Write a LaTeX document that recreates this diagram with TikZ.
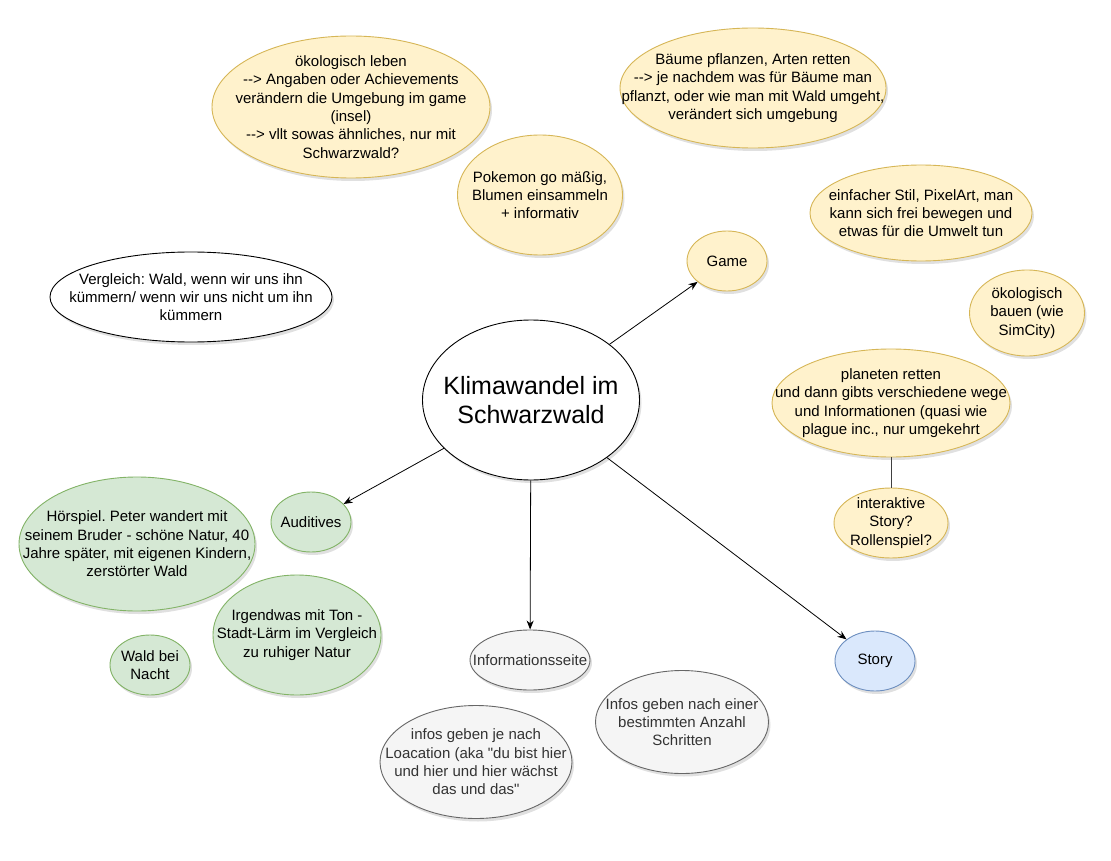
\documentclass[tikz,border=0pt]{standalone}
\usepackage{fontspec}
\setmainfont{Liberation Sans}[Ligatures=TeXOff]
\frenchspacing
\usetikzlibrary{shapes.geometric,arrows.meta,shadows}
\definecolor{yfill}{HTML}{FFF2CC}\definecolor{ydraw}{HTML}{D6B656}
\definecolor{gfill}{HTML}{D5E8D4}\definecolor{gdraw}{HTML}{82B366}
\definecolor{sfill}{HTML}{F5F5F5}\definecolor{sdraw}{HTML}{666666}
\definecolor{stext}{HTML}{333333}
\definecolor{bfill}{HTML}{DAE8FC}\definecolor{bdraw}{HTML}{6C8EBF}
\tikzset{
  ell/.style={ellipse,inner sep=0pt,line width=0.9pt,
    drop shadow={shadow xshift=2pt,shadow yshift=-3pt,opacity=0.12,fill=black}},
  yel/.style={ell,fill=yfill,draw=ydraw},
  grn/.style={ell,fill=gfill,draw=gdraw},
  gry/.style={ell,fill=sfill,draw=sdraw},
  blu/.style={ell,fill=bfill,draw=bdraw},
  wht/.style={ell,fill=white,draw=black},
  txt/.style={align=center,inner sep=0pt,font=\fontsize{15}{18.3}\selectfont},
  gtxt/.style={txt,text=stext},
  arr/.style={-{Stealth[length=9pt,width=7pt]},line width=0.8pt,black},
}
\newcommand{\arrw}{-{}-{}>}
\begin{document}
\begin{tikzpicture}[x=1pt,y=-1pt]
\useasboundingbox (0,0) rectangle (1111,861);
\fill[white] (0,0) rectangle (1111,861);

% center
\node[wht,minimum width=217pt,minimum height=160pt] (center) at (531,400) {};
\node[txt,font=\fontsize{25}{29}\selectfont] at (center) {Klimawandel im\\Schwarzwald};

% main branches
\node[yel,minimum width=80pt,minimum height=60pt] (game) at (727,261) {};
\node[txt] at (game) {Game};
\node[grn,minimum width=80pt,minimum height=60pt] (aud) at (311,522) {};
\node[txt] at (aud) {Auditives};
\node[gry,minimum width=120pt,minimum height=60pt] (info) at (530,660) {};
\node[gtxt] at (info) {Informationsseite};
\node[blu,minimum width=80pt,minimum height=60pt] (story) at (875,661) {};
\node[txt] at (story) {Story};

% yellow ideas
\node[yel,minimum width=278pt,minimum height=142pt] (oeko) at (351,107) {};
\node[txt] at (oeko) {ökologisch leben\\\arrw{} Angaben oder Achievements\\verändern die Umgebung im game\\(insel)\\\arrw{} vllt sowas ähnliches, nur mit\\Schwarzwald?};
\node[yel,minimum width=266pt,minimum height=120pt] (baeume) at (753,88) {};
\node[txt] at (baeume) {Bäume pflanzen, Arten retten\\\arrw{} je nachdem was für Bäume man\\pflanzt, oder wie man mit Wald umgeht,\\verändert sich umgebung};
\node[yel,minimum width=165pt,minimum height=120pt] (poke) at (540,195) {};
\node[txt] at (poke) {Pokemon go mäßig,\\Blumen einsammeln\\+ informativ};
\node[yel,minimum width=222pt,minimum height=96pt] (stil) at (921,213) {};
\node[txt] at (stil) {einfacher Stil, PixelArt, man\\kann sich frei bewegen und\\etwas für die Umwelt tun};
\node[yel,minimum width=115pt,minimum height=86pt] (bauen) at (1027,313) {};
\node[txt] at (bauen) {ökologisch\\bauen (wie\\SimCity)};
\node[yel,minimum width=238pt,minimum height=108pt] (planet) at (891,403) {};
\node[txt] at (planet) {planeten retten\\und dann gibts verschiedene wege\\und Informationen (quasi wie\\plague inc., nur umgekehrt};
\node[yel,minimum width=114pt,minimum height=70pt] (inter) at (891,523) {};
\node[txt] at (inter) {interaktive\\Story?\\Rollenspiel?};

% white
\node[wht,minimum width=282pt,minimum height=90pt] (vergl) at (191,297) {};
\node[txt] at (vergl) {Vergleich: Wald, wenn wir uns ihn\\kümmern/ wenn wir uns nicht um ihn\\kümmern};

% green
\node[grn,minimum width=236pt,minimum height=134pt] (hoer) at (137,544) {};
\node[txt] at (hoer) {Hörspiel. Peter wandert mit\\seinem Bruder - schöne Natur, 40\\Jahre später, mit eigenen Kindern,\\zerstörter Wald};
\node[grn,minimum width=168pt,minimum height=120pt] (ton) at (297,635) {};
\node[txt] at (ton) {Irgendwas mit Ton -\\Stadt-Lärm im Vergleich\\zu ruhiger Natur};
\node[grn,minimum width=80pt,minimum height=60pt] (nacht) at (150,665) {};
\node[txt] at (nacht) {Wald bei\\Nacht};

% gray
\node[gry,minimum width=192pt,minimum height=113pt] (loc) at (476,762) {};
\node[gtxt] at (loc) {infos geben je nach\\Loacation (aka "du bist hier\\und hier und hier wächst\\das und das"};
\node[gry,minimum width=173pt,minimum height=103pt] (schritte) at (682,722) {};
\node[gtxt] at (schritte) {Infos geben nach einer\\bestimmten Anzahl\\Schritten};

% connectors
\draw[arr] (center) -- (game);
\draw[arr] (center) -- (aud);
\draw[arr] (center) -- (info);
\draw[arr] (center) -- (story);
\draw[line width=0.9pt,black!75] (planet) -- (inter);
\end{tikzpicture}
\end{document}
